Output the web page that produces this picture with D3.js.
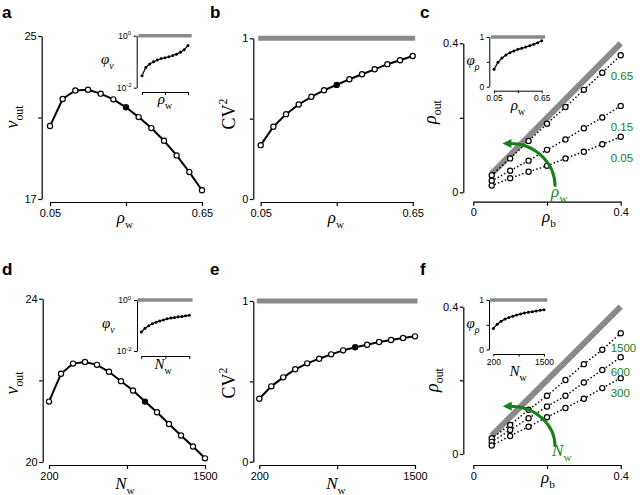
<!DOCTYPE html>
<html>
<head>
<meta charset="utf-8">
<script src="https://cdn.jsdelivr.net/npm/d3@7"></script>
<style>
  body { margin: 0; background: #fff; }
  svg text { font-family: "Liberation Sans", Arial, sans-serif; }
  .axis path, .axis line { stroke: #000; stroke-width: 1.2; }
  .axis text { font-size: 11px; fill: #000; }
  .inset path, .inset line { stroke-width: 1; }
  .inset text { font-size: 8.5px; }
  .math { font-family: "Liberation Serif", "Times New Roman", serif; }
</style>
</head>
<body>
<svg id="fig" width="640" height="495"></svg>
<script>
// ---- data ----
const rhoW = [0.05, 0.10, 0.15, 0.20, 0.25, 0.30, 0.35, 0.40, 0.45, 0.50, 0.55, 0.60, 0.65]
const nuOutRhoW = [20.58, 21.91, 22.33, 22.36, 22.17, 21.89, 21.50, 21.02, 20.48, 19.86, 19.14, 18.32, 17.43]
const cv2RhoW = [0.335, 0.45, 0.528, 0.588, 0.636, 0.677, 0.71, 0.745, 0.776, 0.807, 0.839, 0.863, 0.89]
const phiNuRhoW = [0.029, 0.060, 0.081, 0.100, 0.115, 0.132, 0.141, 0.155, 0.174, 0.195, 0.229, 0.288, 0.417]
const phiRhoRhoW = [0.349, 0.49, 0.577, 0.638, 0.685, 0.718, 0.752, 0.772, 0.799, 0.826, 0.852, 0.886, 0.926]
const refRhoW = 0.35

const nW = [200, 300, 400, 500, 600, 700, 800, 900, 1000, 1100, 1200, 1300, 1400, 1500]
const nuOutNW = [21.48, 22.16, 22.41, 22.45, 22.38, 22.21, 21.98, 21.75, 21.48, 21.22, 20.93, 20.65, 20.38, 20.09]
const cv2NW = [0.392, 0.469, 0.525, 0.575, 0.612, 0.641, 0.668, 0.693, 0.712, 0.728, 0.745, 0.757, 0.770, 0.780]
const phiNuNW = [0.055, 0.078, 0.098, 0.117, 0.135, 0.151, 0.166, 0.182, 0.195, 0.204, 0.219, 0.224, 0.240, 0.251]
const phiRhoNW = [0.425, 0.51, 0.569, 0.614, 0.647, 0.673, 0.699, 0.719, 0.739, 0.752, 0.765, 0.778, 0.791, 0.804]
const refNW = 1000

const rhoB = [0.05, 0.10, 0.15, 0.20, 0.25, 0.30, 0.35, 0.40]
const rhoWLevels = ['0.65', '0.15', '0.05']
const rhoOutW065 = [0.046, 0.091, 0.138, 0.184, 0.229, 0.275, 0.321, 0.368]
const rhoOutW015 = [0.031, 0.058, 0.085, 0.114, 0.142, 0.172, 0.201, 0.232]
const rhoOutW005 = [0.018, 0.038, 0.055, 0.071, 0.091, 0.109, 0.129, 0.149]
const nWLevels = ['1500', '600', '300']
const rhoOutN1500 = [0.043, 0.079, 0.120, 0.158, 0.201, 0.244, 0.283, 0.328]
const rhoOutN600 = [0.033, 0.065, 0.097, 0.129, 0.158, 0.194, 0.228, 0.263]
const rhoOutN300 = [0.023, 0.049, 0.074, 0.100, 0.125, 0.150, 0.179, 0.206]

const green = '#17801a'
const grey = '#8a8a8a'

let svg = d3.select('#fig')

// text with italic / sub / sup pieces
function mathText(x, y, parts, size, opt = {}) {
  let t = svg.append('text')
              .attr('class', 'math')
              .attr('font-size', size)
              .attr('text-anchor', opt.anchor || 'start')
              .attr('fill', opt.color || '#000')
  if (opt.rotate) t.attr('transform', 'translate(' + x + ',' + y + ') rotate(-90)')
  else t.attr('x', x).attr('y', y)
  let shift = 0
  parts.forEach(p => {
    let target = p.sub ? size * 0.3 : p.sup ? -size * 0.42 : 0
    t.append('tspan')
      .text(p.t)
      .attr('font-style', p.i ? 'italic' : 'normal')
      .attr('font-size', (p.sub || p.sup) ? size * 0.66 : size)
      .attr('dy', target - shift)
    shift = target
  })
  return t
}

function leftAxis(sc, x, ticks, labels, cls, size, pad) {
  svg.append('g')
      .attr('class', 'axis ' + (cls || ''))
      .attr('transform', 'translate(' + x + ',0)')
      .call(d3.axisLeft(sc).tickValues(ticks).tickSize(size || 3.5).tickSizeOuter(0)
              .tickPadding(pad == null ? 1.5 : pad).tickFormat((d, i) => labels[i]))
}

function bottomAxis(sc, y, ticks, labels, cls, size, pad) {
  svg.append('g')
      .attr('class', 'axis ' + (cls || ''))
      .attr('transform', 'translate(0,' + y + ')')
      .call(d3.axisBottom(sc).tickValues(ticks).tickSize(size || 4).tickSizeOuter(0)
              .tickPadding(pad == null ? 3 : pad).tickFormat((d, i) => labels[i]))
}

function greyLevel(x, y, x0, x1, level, w) {
  svg.append('line')
      .attr('x1', x(x0)).attr('x2', x(x1))
      .attr('y1', y(level)).attr('y2', y(level))
      .attr('stroke', grey).attr('stroke-width', w)
      .attr('stroke-linecap', 'square')
}

function curve(xs, ys, x, y, ref) {
  let line = d3.line().x((d, i) => x(xs[i])).y(d => y(d))
  svg.append('path').datum(ys)
      .attr('d', line).attr('fill', 'none')
      .attr('stroke', '#000').attr('stroke-width', 2)
  svg.append('g').selectAll('circle')
      .data(ys).enter().append('circle')
      .attr('cx', (d, i) => x(xs[i]))
      .attr('cy', d => y(d))
      .attr('r', 2.6)
      .attr('fill', (d, i) => xs[i] === ref ? '#000' : '#fff')
      .attr('stroke', '#000').attr('stroke-width', 1.2)
}

function insetCurve(xs, ys, x, y) {
  let line = d3.line().x((d, i) => x(xs[i])).y(d => y(d))
  svg.append('path').datum(ys)
      .attr('d', line).attr('fill', 'none')
      .attr('stroke', '#000').attr('stroke-width', 1.2)
  svg.append('g').selectAll('circle')
      .data(ys).enter().append('circle')
      .attr('cx', (d, i) => x(xs[i]))
      .attr('cy', d => y(d))
      .attr('r', 1.5).attr('fill', '#000')
}

function powLabel(x, y, exp) {
  let t = svg.append('text')
              .attr('x', x).attr('y', y)
              .attr('text-anchor', 'end')
              .attr('font-size', 8.5)
  t.append('tspan').text('10')
  t.append('tspan').text(exp).attr('font-size', 6).attr('dy', -3.5)
}

function scatterSeries(xs, series, labels, x, y, labelDy) {
  let line = d3.line().x((d, i) => x(xs[i])).y(d => y(d))
  series.forEach((ys, k) => {
    svg.append('path').datum(ys)
        .attr('d', line).attr('fill', 'none')
        .attr('stroke', '#000').attr('stroke-width', 1.6)
        .attr('stroke-linecap', 'round')
        .attr('stroke-dasharray', '0.1,3.6')
    svg.append('g').selectAll('circle')
        .data(ys).enter().append('circle')
        .attr('cx', (d, i) => x(xs[i]))
        .attr('cy', d => y(d))
        .attr('r', 2.6)
        .attr('fill', '#fff')
        .attr('stroke', '#000').attr('stroke-width', 1.2)
  })
  series.forEach((ys, k) => {
    svg.append('text')
        .attr('x', x(xs[xs.length - 1]) - 10)
        .attr('y', y(ys[ys.length - 1]) + labelDy)
        .attr('font-size', 11.5)
        .attr('fill', green)
        .text(labels[k])
  })
}

// curved arrow: from s (bottom) up and round to e (pointing left)
function bentArrow(x, y, s, e) {
  let sx = x(s[0]), sy = y(s[1]), ex = x(e[0]), ey = y(e[1])
  let hl = 9, hw = 4.5
  let bx = ex + hl - 1
  let p = d3.path()
  p.moveTo(sx, sy)
  p.bezierCurveTo(sx, sy - 0.55 * (sy - ey), bx + 0.55 * (sx - bx), ey, bx, ey)
  svg.append('path')
      .attr('d', p.toString())
      .attr('fill', 'none').attr('stroke', green).attr('stroke-width', 3)
  svg.append('path')
      .attr('d', 'M' + ex + ',' + ey + 'L' + (ex + hl) + ',' + (ey - hw) + 'L' + (ex + hl) + ',' + (ey + hw) + 'Z')
      .attr('fill', green)
  return [sx, sy]
}

function panelLetter(x, y, s) {
  svg.append('text').attr('x', x).attr('y', y)
      .attr('font-size', 17).attr('font-weight', 'bold').text(s)
}

// ================= panel a =================
let xA = d3.scaleLinear().domain([0.05, 0.65]).range([50, 202])
let yA = d3.scaleLinear().domain([17, 25]).range([199, 36])
leftAxis(yA, 41.7, [17, 21, 25], ['17', '', '25'])
bottomAxis(xA, 202, [0.05, 0.35, 0.65], ['0.05', '', '0.65'])
curve(rhoW, nuOutRhoW, xA, yA, refRhoW)
mathText(18, 117, [{t: 'ν', i: true}, {t: 'out', sub: true}], 18, {rotate: true, anchor: 'middle'})
mathText(125, 223, [{t: 'ρ', i: true}, {t: 'w', sub: true}], 17, {anchor: 'middle'})
panelLetter(2, 18, 'a')

// inset a
let xAi = d3.scaleLinear().domain([0.05, 0.65]).range([142, 188])
let yAi = d3.scaleLog().domain([0.01, 1]).range([87.7, 35.7])
leftAxis(yAi, 136.7, [0.01, 1], ['', ''], 'inset', 3, 0)
bottomAxis(xAi, 92, [0.05, 0.35, 0.65], ['', '', ''], 'inset', 3, 0)
greyLevel(xAi, yAi, 0.05 - 0.025, 0.65 + 0.025, 1, 3.5)
insetCurve(rhoW, phiNuRhoW, xAi, yAi)
powLabel(131, yAi(1) + 3, '0')
powLabel(131.5, yAi(0.01) + 3, '-2')
mathText(101, 64, [{t: 'φ', i: true}, {t: 'ν', i: true, sub: true}], 15)
mathText(165, 104, [{t: 'ρ', i: true}, {t: 'w', sub: true}], 15, {anchor: 'middle'})

// ================= panel b =================
let xB = d3.scaleLinear().domain([0.05, 0.65]).range([260.7, 412.7])
let yB = d3.scaleLinear().domain([0, 1]).range([199, 38.3])
leftAxis(yB, 253.3, [0, 0.5, 1], ['0', '', '1'])
bottomAxis(xB, 202, [0.05, 0.35, 0.65], ['0.05', '', '0.65'])
greyLevel(xB, yB, 0.05, 0.65, 1, 5)
curve(rhoW, cv2RhoW, xB, yB, refRhoW)
mathText(235, 114, [{t: 'CV'}, {t: '2', sup: true}], 18, {rotate: true, anchor: 'middle'})
mathText(336, 223, [{t: 'ρ', i: true}, {t: 'w', sub: true}], 17, {anchor: 'middle'})
panelLetter(210, 18, 'b')

// ================= panel c =================
let xC = d3.scaleLinear().domain([0, 0.4]).range([473.3, 620.7])
let yC = d3.scaleLinear().domain([0, 0.4]).range([192.3, 43.3])
leftAxis(yC, 463.3, [0, 0.2, 0.4], ['0', '', '0.4'])
bottomAxis(xC, 201.7, [0, 0.2, 0.4], ['0', '', '0.4'])
svg.append('line')
    .attr('x1', xC(0.05)).attr('y1', yC(0.05))
    .attr('x2', xC(0.4)).attr('y2', yC(0.4))
    .attr('stroke', grey).attr('stroke-width', 6)
scatterSeries(rhoB, [rhoOutW065, rhoOutW015, rhoOutW005], rhoWLevels, xC, yC, 25)
let aC = bentArrow(xC, yC, [0.222, 0.015], [0.079, 0.131])
mathText(aC[0] - 4, aC[1] + 10, [{t: 'ρ', i: true}, {t: 'w', sub: true}], 17, {color: green})
mathText(436, 112, [{t: 'ρ', i: true}, {t: 'out', sub: true}], 18, {rotate: true, anchor: 'middle'})
mathText(549, 222, [{t: 'ρ', i: true}, {t: 'b', sub: true}], 17, {anchor: 'middle'})
panelLetter(420, 18, 'c')

// inset c
let xCi = d3.scaleLinear().domain([0.05, 0.65]).range([494, 541.7])
let yCi = d3.scaleLinear().domain([0, 1]).range([86.7, 37])
leftAxis(yCi, 489.3, [0, 0.5, 1], ['0', '', '1'], 'inset', 2.5, 2.5)
bottomAxis(xCi, 90.7, [0.05, 0.35, 0.65], ['0.05', '', '0.65'], 'inset', 2.5, 2)
greyLevel(xCi, yCi, 0.05 - 0.02, 0.65 + 0.02, 1, 3.5)
insetCurve(rhoW, phiRhoRhoW, xCi, yCi)
mathText(466.5, 65, [{t: 'φ', i: true}, {t: 'ρ', i: true, sub: true}], 15)
mathText(518, 110, [{t: 'ρ', i: true}, {t: 'w', sub: true}], 15, {anchor: 'middle'})

// ================= panel d =================
let xD = d3.scaleLinear().domain([200, 1500]).range([49, 205])
let yD = d3.scaleLinear().domain([20, 24]).range([462, 298.7])
leftAxis(yD, 42.7, [20, 22, 24], ['20', '', '24'])
bottomAxis(xD, 465, [200, 850, 1500], ['200', '', '1500'])
curve(nW, nuOutNW, xD, yD, refNW)
mathText(18, 383, [{t: 'ν', i: true}, {t: 'out', sub: true}], 18, {rotate: true, anchor: 'middle'})
mathText(125, 489, [{t: 'N', i: true}, {t: 'w', sub: true}], 17, {anchor: 'middle'})
panelLetter(2, 275, 'd')

// inset d
let xDi = d3.scaleLinear().domain([200, 1500]).range([141.3, 189.3])
let yDi = d3.scaleLog().domain([0.01, 1]).range([351, 300])
leftAxis(yDi, 137, [0.01, 1], ['', ''], 'inset', 3, 0)
bottomAxis(xDi, 356, [200, 850, 1500], ['', '', ''], 'inset', 3, 0)
greyLevel(xDi, yDi, 200 - 50, 1500 + 40, 1, 3.5)
insetCurve(nW, phiNuNW, xDi, yDi)
powLabel(131, yDi(1) + 3, '0')
powLabel(131.5, yDi(0.01) + 3, '-2')
mathText(102, 328, [{t: 'φ', i: true}, {t: 'ν', i: true, sub: true}], 15)
mathText(163, 369, [{t: 'N', i: true}, {t: 'w', sub: true}], 15, {anchor: 'middle'})

// ================= panel e =================
let xE = d3.scaleLinear().domain([200, 1500]).range([259.3, 415])
let yE = d3.scaleLinear().domain([0, 1]).range([461.7, 301])
leftAxis(yE, 253.3, [0, 0.5, 1], ['0', '', '1'])
bottomAxis(xE, 465, [200, 850, 1500], ['200', '', '1500'])
greyLevel(xE, yE, 200, 1500, 1, 5)
curve(nW, cv2NW, xE, yE, refNW)
mathText(235, 383, [{t: 'CV'}, {t: '2', sup: true}], 18, {rotate: true, anchor: 'middle'})
mathText(336, 489, [{t: 'N', i: true}, {t: 'w', sub: true}], 17, {anchor: 'middle'})
panelLetter(210, 275, 'e')

// ================= panel f =================
let xF = d3.scaleLinear().domain([0, 0.4]).range([473.3, 620.7])
let yF = d3.scaleLinear().domain([0, 0.4]).range([454, 306.7])
leftAxis(yF, 463.3, [0, 0.2, 0.4], ['0', '', '0.4'])
bottomAxis(xF, 465, [0, 0.2, 0.4], ['0', '', '0.4'])
svg.append('line')
    .attr('x1', xF(0.05)).attr('y1', yF(0.05))
    .attr('x2', xF(0.4)).attr('y2', yF(0.4))
    .attr('stroke', grey).attr('stroke-width', 6)
scatterSeries(rhoB, [rhoOutN1500, rhoOutN600, rhoOutN300], nWLevels, xF, yF, 19)
let aF = bentArrow(xF, yF, [0.222, 0.02], [0.08, 0.13])
mathText(aF[0] - 3, aF[1] + 9, [{t: 'N', i: true}, {t: 'w', sub: true}], 17, {color: green})
mathText(438, 380, [{t: 'ρ', i: true}, {t: 'out', sub: true}], 18, {rotate: true, anchor: 'middle'})
mathText(548, 483, [{t: 'ρ', i: true}, {t: 'b', sub: true}], 17, {anchor: 'middle'})
panelLetter(420, 275, 'f')

// inset f
let xFi = d3.scaleLinear().domain([200, 1500]).range([493.3, 544])
let yFi = d3.scaleLinear().domain([0, 1]).range([349.5, 300])
leftAxis(yFi, 489, [0, 0.5, 1], ['0', '', '1'], 'inset', 2.5, 2.5)
bottomAxis(xFi, 354, [200, 850, 1500], ['200', '', '1500'], 'inset', 2.5, 2)
greyLevel(xFi, yFi, 200 - 40, 1500 + 40, 1, 3.5)
insetCurve(nW, phiRhoNW, xFi, yFi)
mathText(466.5, 328, [{t: 'φ', i: true}, {t: 'ρ', i: true, sub: true}], 15)
mathText(518, 376, [{t: 'N', i: true}, {t: 'w', sub: true}], 15, {anchor: 'middle'})
</script>
</body>
</html>
